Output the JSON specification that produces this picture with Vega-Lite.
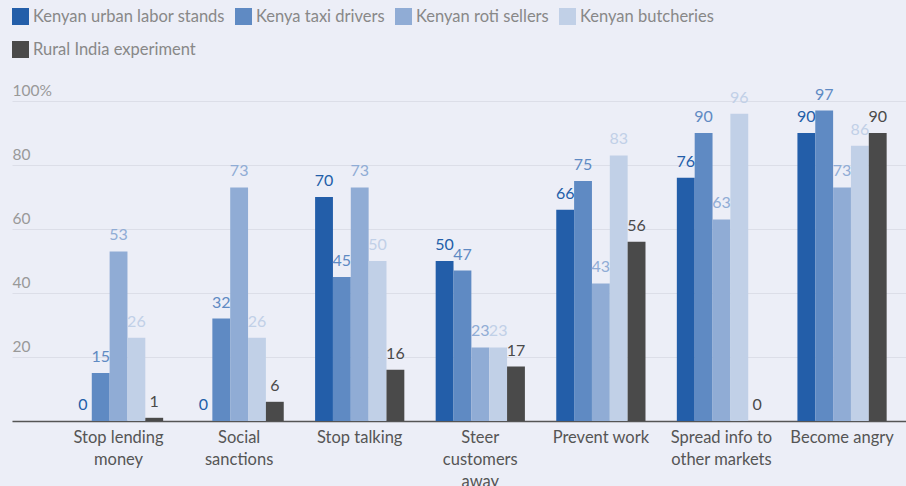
{
  "$schema": "https://vega.github.io/schema/vega-lite/v6.json",
  "width": 894,
  "height": 320,
  "autosize": {"type": "none"},
  "padding": {"left": 12, "top": 101, "right": 0, "bottom": 65},
  "background": "#eceef7",
  "config": {
    "view": {"stroke": null},
    "font": "Lato"
  },
  "data": {
    "values": [
      {"category": "Stop lending money", "series": "Kenyan urban labor stands", "value": 0},
      {"category": "Stop lending money", "series": "Kenya taxi drivers", "value": 15},
      {"category": "Stop lending money", "series": "Kenyan roti sellers", "value": 53},
      {"category": "Stop lending money", "series": "Kenyan butcheries", "value": 26},
      {"category": "Stop lending money", "series": "Rural India experiment", "value": 1},
      {"category": "Social sanctions", "series": "Kenyan urban labor stands", "value": 0},
      {"category": "Social sanctions", "series": "Kenya taxi drivers", "value": 32},
      {"category": "Social sanctions", "series": "Kenyan roti sellers", "value": 73},
      {"category": "Social sanctions", "series": "Kenyan butcheries", "value": 26},
      {"category": "Social sanctions", "series": "Rural India experiment", "value": 6},
      {"category": "Stop talking", "series": "Kenyan urban labor stands", "value": 70},
      {"category": "Stop talking", "series": "Kenya taxi drivers", "value": 45},
      {"category": "Stop talking", "series": "Kenyan roti sellers", "value": 73},
      {"category": "Stop talking", "series": "Kenyan butcheries", "value": 50},
      {"category": "Stop talking", "series": "Rural India experiment", "value": 16},
      {"category": "Steer customers away", "series": "Kenyan urban labor stands", "value": 50},
      {"category": "Steer customers away", "series": "Kenya taxi drivers", "value": 47},
      {"category": "Steer customers away", "series": "Kenyan roti sellers", "value": 23},
      {"category": "Steer customers away", "series": "Kenyan butcheries", "value": 23},
      {"category": "Steer customers away", "series": "Rural India experiment", "value": 17},
      {"category": "Prevent work", "series": "Kenyan urban labor stands", "value": 66},
      {"category": "Prevent work", "series": "Kenya taxi drivers", "value": 75},
      {"category": "Prevent work", "series": "Kenyan roti sellers", "value": 43},
      {"category": "Prevent work", "series": "Kenyan butcheries", "value": 83},
      {"category": "Prevent work", "series": "Rural India experiment", "value": 56},
      {"category": "Spread info to other markets", "series": "Kenyan urban labor stands", "value": 76},
      {"category": "Spread info to other markets", "series": "Kenya taxi drivers", "value": 90},
      {"category": "Spread info to other markets", "series": "Kenyan roti sellers", "value": 63},
      {"category": "Spread info to other markets", "series": "Kenyan butcheries", "value": 96},
      {"category": "Spread info to other markets", "series": "Rural India experiment", "value": 0},
      {"category": "Become angry", "series": "Kenyan urban labor stands", "value": 90},
      {"category": "Become angry", "series": "Kenya taxi drivers", "value": 97},
      {"category": "Become angry", "series": "Kenyan roti sellers", "value": 73},
      {"category": "Become angry", "series": "Kenyan butcheries", "value": 86},
      {"category": "Become angry", "series": "Rural India experiment", "value": 90}
    ]
  },
  "encoding": {
    "x": {
      "field": "category",
      "type": "nominal",
      "sort": null,
      "scale": {"paddingInner": 0.26, "paddingOuter": 0.337, "align": 0.762},
      "axis": {
        "title": null,
        "labelAngle": 0,
        "ticks": false,
        "tickSize": 0,
        "labelPadding": 8,
        "labelFontSize": 16.5,
        "labelColor": "#555555",
        "labelLineHeight": 22,
        "labelBaseline": "top",
        "domainColor": "#555555",
        "domainWidth": 1.5,
        "labelExpr": "datum.value == 'Stop lending money' ? ['Stop lending', 'money'] : datum.value == 'Social sanctions' ? ['Social', 'sanctions'] : datum.value == 'Steer customers away' ? ['Steer', 'customers', 'away'] : datum.value == 'Spread info to other markets' ? ['Spread info to', 'other markets'] : datum.label"
      }
    },
    "xOffset": {
      "field": "series",
      "type": "nominal",
      "sort": ["Kenyan urban labor stands", "Kenya taxi drivers", "Kenyan roti sellers", "Kenyan butcheries", "Rural India experiment"],
      "scale": {"paddingInner": 0, "paddingOuter": 0}
    },
    "y": {
      "field": "value",
      "type": "quantitative",
      "scale": {"domain": [0, 100], "nice": false},
      "axis": {
        "title": null,
        "values": [0, 20, 40, 60, 80, 100],
        "domain": false,
        "ticks": false,
        "tickSize": 0,
        "labelAlign": "left",
        "labelBaseline": "bottom",
        "labelPadding": 0,
        "labelOffset": -3,
        "labelFontSize": 15.5,
        "labelColor": "#999999",
        "labelFlush": false,
        "labelOverlap": false,
        "labelExpr": "datum.value == 0 ? '' : datum.value == 100 ? '100%' : datum.label",
        "gridColor": "#dcdee8",
        "gridWidth": 1
      }
    },
    "color": {
      "field": "series",
      "type": "nominal",
      "sort": ["Kenyan urban labor stands", "Kenya taxi drivers", "Kenyan roti sellers", "Kenyan butcheries", "Rural India experiment"],
      "scale": {
        "domain": ["Kenyan urban labor stands", "Kenya taxi drivers", "Kenyan roti sellers", "Kenyan butcheries", "Rural India experiment"],
        "range": ["#235ea9", "#5f8ac3", "#90acd5", "#c1d0e7", "#4a4a4a"]
      },
      "legend": {
        "title": null,
        "orient": "none",
        "legendX": 0,
        "legendY": -93,
        "direction": "horizontal",
        "columns": 4,
        "gridAlign": "none",
        "padding": 0,
        "symbolType": "square",
        "symbolSize": 289,
        "symbolStrokeWidth": 0,
        "symbolOpacity": 1,
        "labelFontSize": 16.5,
        "labelColor": "#888888",
        "labelOffset": 4,
        "labelLimit": 400,
        "columnPadding": 10,
        "rowPadding": 16
      }
    }
  },
  "layer": [
    {"mark": {"type": "bar", "opacity": 1}},
    {
      "mark": {"type": "text", "baseline": "alphabetic", "dy": -11, "fontSize": 16},
      "encoding": {
        "text": {"field": "value", "type": "quantitative"}
      }
    }
  ]
}
